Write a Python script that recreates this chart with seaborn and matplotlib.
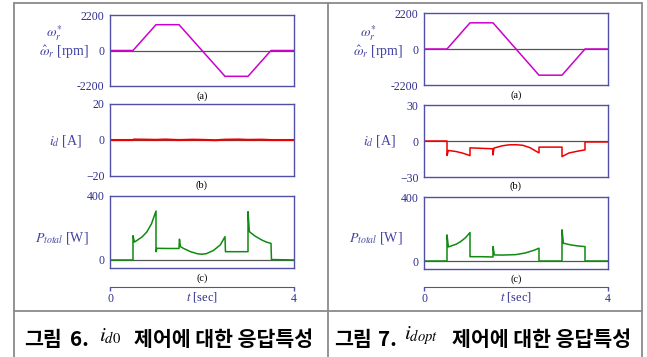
import matplotlib
matplotlib.use('Agg')
import matplotlib.pyplot as plt
import seaborn as sns
from matplotlib.lines import Line2D

# ---- data (time in sec) ----
speed_t = [0, 0.5, 1.0, 1.5, 2.5, 3.0, 3.5, 4.0]
speed_rpm = [0, 0, 1600, 1600, -1600, -1600, 0, 0]

# Fig. 6 : i_d0 control
id0_t = [0, 0.5, 0.52, 0.8, 1.0, 1.2, 1.5, 1.8, 2.0, 2.3, 2.5, 2.8, 3.0, 3.3, 3.5, 4.0]
id0_a = [0, 0, 0.3, 0.2, 0.1, 0.3, 0.0, 0.2, 0.1, -0.1, 0.2, 0.3, 0.1, 0.2, 0.0, 0]
p0_t = [0, 0.5, 0.5, 0.53, 0.6, 0.7, 0.8, 0.9, 1.0, 1.0, 1.02, 1.25, 1.5, 1.51, 1.53,
        1.6, 1.75, 1.9, 2.0, 2.1, 2.25, 2.4, 2.5, 2.51, 2.75, 3.0, 3.0, 3.03, 3.15, 3.3,
        3.4, 3.5, 3.51, 4.0]
p0_w = [0, 0, 152, 112, 125, 145, 175, 225, 306, 52, 73, 72, 72, 130, 84,
        72, 52, 39, 36, 40, 60, 95, 146, 52, 52, 52, 302, 177, 150, 125,
        112, 104, 3, 0]

# Fig. 7 : i_dopt control
idopt_t = [0, 0.5, 0.5, 0.53, 0.7, 0.85, 1.0, 1.0, 1.25, 1.5, 1.5, 1.52, 1.7, 1.85,
           2.0, 2.15, 2.3, 2.5, 2.5, 2.75, 3.0, 3.0, 3.15, 3.35, 3.5, 3.5, 4.0]
idopt_a = [0, 0, -12, -7.9, -8.8, -10.2, -12.2, -5.7, -6.1, -6.5, -11.6, -5.9, -4.0, -3.2,
           -3.1, -3.6, -5.5, -9.9, -5.1, -5.1, -5.1, -13, -10, -8.4, -7.4, -0.8, -0.8]
popt_t = [0, 0.5, 0.5, 0.53, 0.7, 0.8, 0.9, 1.0, 1.0, 1.25, 1.5, 1.5, 1.53, 1.7,
          2.0, 2.2, 2.4, 2.5, 2.5, 3.0, 3.0, 3.03, 3.2, 3.35, 3.5, 3.5, 4.0]
popt_w = [0, 0, 163, 88, 105, 122, 145, 178, 27, 27, 25, 90, 38, 37,
          40, 50, 68, 80, 0, 0, 195, 111, 100, 94, 90, 0, 0]

W, H = 647, 357
NAVY = '#2E2E8E'
LABEL = '#4444A4'
SPINE = '#5050A8'
GRAY = '#8a8a8a'

sns.set_style('white')
plt.rcParams['font.family'] = ['Liberation Serif', 'DejaVu Serif']
plt.rcParams['mathtext.fontset'] = 'stix'


def rect(x0, y0, x1, y1):
    return [x0 / W, 1 - y1 / H, (x1 - x0) / W, (y1 - y0) / H]


def panel(fig, box, t, v, color, ylim, ticks, labels, lw=1.1):
    ax = fig.add_axes(rect(*box))
    ax.axhline(0, color='#555555', lw=0.9, zorder=1)
    sns.lineplot(x=t, y=v, ax=ax, color=color, lw=lw, sort=False, estimator=None, zorder=2)
    ax.set_xlim(0, 4)
    ax.set_ylim(*ylim)
    ax.set_xticks([])
    ax.set_yticks(ticks)
    ax.set_yticklabels(labels)
    ax.tick_params(axis='y', length=0, pad=4, labelsize=8.5, labelcolor=NAVY)
    ax.set_xlabel('')
    ax.set_ylabel('')
    for s in ax.spines.values():
        s.set_color(SPINE)
        s.set_linewidth(1.0)
    return ax


def column(fig, x0, x1, rows, id_t, id_a, p_t, p_w, id_lim, id_labels, lab_x, id_lw):
    cx = (x0 + x1) / 2
    (ya0, ya1), (yb0, yb1), (yc0, yc1) = rows
    panel(fig, (x0, ya0, x1, ya1), speed_t, speed_rpm, '#CC00CC',
          (-2200, 2200), [-2200, 0, 2200], ['-2200', '0', '2200'])
    panel(fig, (x0, yb0, x1, yb1), id_t, id_a, '#EE0000',
          (-id_lim, id_lim), [-id_lim, 0, id_lim], id_labels, lw=id_lw)
    panel(fig, (x0, yc0, x1, yc1), p_t, p_w, '#108A10',
          (-50, 400), [0, 400], ['0', '400'])

    # sub-figure labels
    for txt, y in [('(a)', ya1 + 10), ('(b)', yb1 + 9), ('(c)', yc1 + 10)]:
        fig.text(cx / W, 1 - y / H, txt, ha='center', va='center', fontsize=7.5, color='black')

    # y labels
    fig.text((lab_x - 43) / W, 1 - 33 / H, r'$\omega_r^{*}$', ha='left', va='center',
             fontsize=10, color=LABEL)
    fig.text(lab_x / W, 1 - 52 / H, r'$\hat{\omega}_r$ [rpm]', ha='right', va='center',
             fontsize=10, color=LABEL)
    fig.text((lab_x - 7) / W, 1 - 141 / H, r'$i_d$ [A]', ha='right', va='center',
             fontsize=10, color=LABEL)
    fig.text(lab_x / W, 1 - 238 / H, r'$P_{total}$ [W]', ha='right', va='center',
             fontsize=10, color=LABEL)

    # time axis
    tax = fig.add_axes(rect(x0, 282, x1, 287))
    tax.set_xlim(0, 4)
    tax.set_yticks([])
    tax.set_xticks([0, 4])
    tax.set_xticklabels(['0', '4'])
    tax.tick_params(axis='x', direction='out', length=3, width=1, color=SPINE,
                    pad=1, labelsize=8.5, labelcolor=NAVY, bottom=True)
    for name, s in tax.spines.items():
        s.set_visible(name == 'bottom')
    tax.spines['bottom'].set_color(SPINE)
    tax.patch.set_alpha(0)
    fig.text(cx / W, 1 - 297 / H, r'$t$ [sec]', ha='center', va='center',
             fontsize=9, color=NAVY)


fig = plt.figure(figsize=(W / 100, H / 100), dpi=100)

column(fig, 110, 294, [(15, 86), (104, 176), (196, 268)],
       id0_t, id0_a, p0_t, p0_w, 20, ['\u221220', '0', '20'], 89, 1.5)
column(fig, 424, 608, [(13, 85), (105, 177), (197, 269)],
       idopt_t, idopt_a, popt_t, popt_w, 30, ['\u221230', '0', '30'], 403, 1.1)

# table frame
def hline(x0, x1, y):
    fig.add_artist(Line2D([x0 / W, x1 / W], [1 - y / H, 1 - y / H], transform=fig.transFigure,
                          color=GRAY, lw=1.3))

def vline(x, y0, y1):
    fig.add_artist(Line2D([x / W, x / W], [1 - y0 / H, 1 - y1 / H], transform=fig.transFigure,
                          color=GRAY, lw=1.3))

hline(14, 642, 3)
hline(14, 642, 311)
vline(14, 3, 357)
vline(328, 3, 357)
vline(642, 3, 357)

# captions: Korean text pieces plus the current symbol
cap_font = ['Noto Sans CJK KR', 'DejaVu Sans']
captions = [(24, 70, 99, 134, '6.', r'$i_{d0}$'),
            (334, 378, 404, 452, '7.', r'$i_{dopt}$')]
for xg, xn, xm, xk, num, sym in captions:
    for x, txt in [(xg, '그림'), (xn, num), (xk, '제어에 대한 응답특성')]:
        fig.text(x / W, 1 - 339 / H, txt, ha='left', va='center',
                 fontsize=14.8, weight='bold', family=cap_font, color='black')
    fig.text(xm / W, 1 - 336 / H, sym, ha='left', va='center', fontsize=15, color='black')

fig.savefig('out.png', dpi=100)
